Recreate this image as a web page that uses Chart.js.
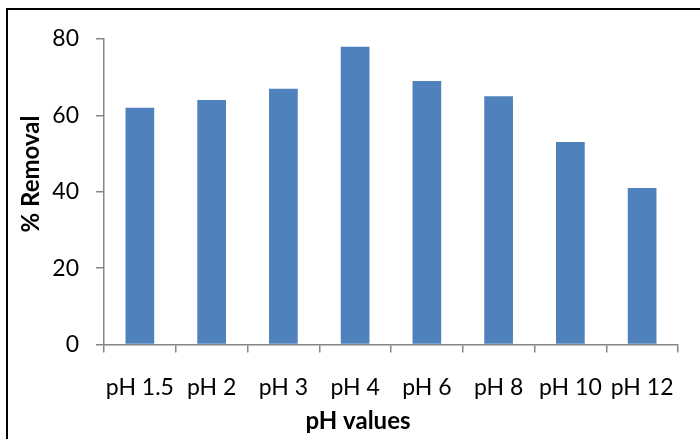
<!DOCTYPE html>
<html>
<head>
<meta charset="utf-8">
<script src="https://cdn.jsdelivr.net/npm/chart.js@4/dist/chart.umd.min.js"></script>
<style>
  html, body { margin: 0; padding: 0; background: #fff; }
  #wrap { position: relative; width: 700px; height: 439px; overflow: hidden; }
  #frame { position: absolute; left: 6px; top: 8px; right: -10px; bottom: -10px;
           border-top: 2.5px solid #000; border-left: 2.5px solid #000; pointer-events: none; }
  canvas { position: absolute; left: 0; top: 0; }
</style>
</head>
<body>
<div id="wrap">
  <canvas id="c" width="700" height="439"></canvas>
  <div id="frame"></div>
</div>
<script>
// pH levels tested and the removal efficiency at each
const categories = ["pH 1.5", "pH 2", "pH 3", "pH 4", "pH 6", "pH 8", "pH 10", "pH 12"];
const removal = [62, 64, 67, 78, 69, 65, 53, 41];
const yTicks = [0, 20, 40, 60, 80];

const xTitle = "pH values";
const yTitle = "% Removal";

const axisGrey = "#868686";
const fontFamily = "Lato, 'Liberation Sans', sans-serif";

// Axis titles placed by hand relative to the plot area
const axisTitles = {
  id: "axisTitles",
  afterDraw(chart) {
    const { ctx, chartArea } = chart;
    ctx.save();
    ctx.fillStyle = "#000";
    ctx.font = "bold 24px " + fontFamily;
    ctx.textAlign = "center";
    ctx.textBaseline = "middle";
    ctx.fillText(xTitle, chartArea.left + 254, 421);
    ctx.translate(31, chartArea.top + 135);
    ctx.rotate(-Math.PI / 2);
    ctx.fillText(yTitle, 0, 0);
    ctx.restore();
  }
};

new Chart(document.getElementById("c"), {
  type: "bar",
  data: {
    labels: categories,
    datasets: [{
      data: removal,
      backgroundColor: "#4F81BD",
      borderWidth: 0,
      categoryPercentage: 1.0,
      barPercentage: 0.4
    }]
  },
  options: {
    responsive: false,
    animation: false,
    events: [],
    layout: { padding: { left: 0, top: 39, right: 22, bottom: 0 } },
    plugins: { legend: { display: false }, tooltip: { enabled: false } },
    scales: {
      x: {
        offset: true,
        grid: { display: true, offset: true, drawOnChartArea: false, drawTicks: true,
                tickLength: 8, color: axisGrey, lineWidth: 1.5 },
        border: { display: true, color: axisGrey, width: 1.5 },
        ticks: { color: "#000", font: { family: fontFamily, size: 23 }, padding: 21,
                 maxRotation: 0, autoSkip: false },
        afterFit(scale) { scale.height = 94.5; }
      },
      y: {
        min: 0,
        max: 80,
        afterBuildTicks(scale) { scale.ticks = yTicks.map(v => ({ value: v })); },
        grid: { display: true, drawOnChartArea: false, drawTicks: true,
                tickLength: 8, color: axisGrey, lineWidth: 1.5 },
        border: { display: true, color: axisGrey, width: 1.5 },
        ticks: { color: "#000", font: { family: fontFamily, size: 23 }, padding: 17 },
        afterFit(scale) { scale.width = 104; }
      }
    }
  },
  plugins: [axisTitles]
});
</script>
</body>
</html>
